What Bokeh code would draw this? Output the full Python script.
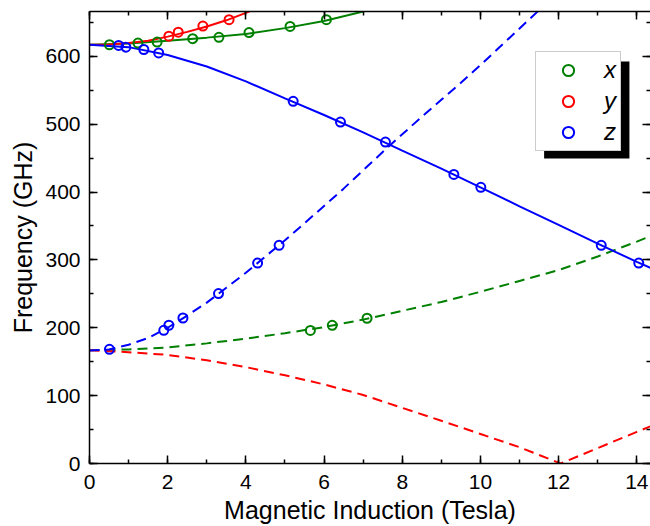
from bokeh.plotting import figure
from bokeh.models import (Range1d, LinearAxis, Legend, LegendItem, BoxAnnotation,
                          SingleIntervalTicker, CustomLabelingPolicy)
from bokeh.embed import file_html
from bokeh.resources import INLINE

# ---- data ----
# measured points
x_hi_B = [0.51, 1.24, 1.73, 2.64, 3.31, 4.08, 5.13, 6.06]
x_hi_F = [617, 619.5, 621, 626, 628, 635, 644, 654]
x_lo_B = [5.65, 6.21, 7.10]
x_lo_F = [196, 203.6, 214]

y_hi_B = [2.03, 2.27, 2.90, 3.57]
y_hi_F = [629.7, 635.6, 644.5, 654]

z_hi_B = [0.745, 0.93, 1.39, 1.77, 5.21, 6.42, 7.57, 9.32, 10.01, 13.09, 14.05]
z_hi_F = [616, 613.5, 610, 605, 533.6, 503, 473.6, 426, 407, 321.5, 295.4]
z_lo_B = [0.51, 1.90, 2.03, 2.39, 3.30, 4.30, 4.85]
z_lo_F = [168.3, 196.3, 203.7, 214.4, 250.4, 295.4, 321.5]

# calculated curves
gx_solid_B = [0, 1, 2, 3, 4, 5, 6, 7, 7.2]
gx_solid_F = [617, 619, 623, 627.5, 633, 641.5, 652, 666, 669]
gx_dash_B = [0, 1, 2, 3, 4, 5, 6, 7, 8, 9, 10, 11, 12, 13, 14, 14.4]
gx_dash_F = [167, 168, 171, 177, 184, 192, 201, 212, 225, 238, 253, 269, 285, 305, 327, 336]

ry_solid_B = [0, 0.5, 1, 1.5, 2, 2.5, 3, 3.5, 4, 4.5]
ry_solid_F = [617, 617.5, 619.5, 623, 629, 636, 644, 653, 664, 676]
ry_dash_B = [0, 1, 2, 3, 4, 5, 6, 7, 8, 9, 10, 11, 12.05, 13, 14, 14.4]
ry_dash_F = [167, 164, 160, 152, 142, 130, 116.5, 101, 82, 63, 43.5, 24, 0, 22.7, 46.6, 56]

bz_solid_B = [0, 1, 2, 3, 4, 5, 6, 7, 8, 9, 10, 11, 12, 13, 14, 14.4]
bz_solid_F = [617, 613.5, 602, 585, 563, 538, 513.5, 488, 461, 434.5, 407, 379, 351.5, 324, 297, 287]
bz_dash_B = [0, 0.5, 1, 1.5, 2, 2.5, 3, 3.5, 4, 4.5, 5, 5.5, 6, 6.5, 7, 7.5, 8, 8.5, 9, 9.5, 10, 10.5, 11, 11.5]
bz_dash_F = [166.5, 168, 175, 185, 200, 218, 237, 259, 281, 305, 329, 354, 379.5, 405, 432, 459, 485, 511, 536, 561, 587, 614, 641, 668]

labels = ["x", "y", "z"]
x_title = "Magnetic Induction (Tesla)"
y_title = "Frequency (GHz)"
GREEN, RED, BLUE = "#008000", "#FF0000", "#0000FF"
FONT = "Liberation Sans"

X_END, Y_END = 14.35, 666
W, H = 650, 526
ML, MT, MB = 89, 11, 63
FW = 559.0                 # expected frame width in px
FH = float(H - MT - MB)    # frame height in px

p = figure(width=W, height=H, output_backend="svg", toolbar_location=None,
           x_range=Range1d(0, X_END), y_range=Range1d(0, Y_END),
           min_border_left=ML, min_border_right=0, min_border_top=MT, min_border_bottom=MB,
           x_axis_label=x_title, y_axis_label=y_title)
p.outline_line_color = None
p.grid.visible = False
p.background_fill_color = "white"
p.border_fill_color = "white"

xt = SingleIntervalTicker(interval=2, num_minor_ticks=2)
yt = SingleIntervalTicker(interval=100, num_minor_ticks=2)

def style(ax):
    ax.axis_line_width = 1.5
    ax.axis_line_color = "black"
    ax.major_tick_in = 8
    ax.major_tick_out = 0
    ax.minor_tick_in = 4
    ax.minor_tick_out = 0
    ax.major_tick_line_width = 1.5
    ax.minor_tick_line_width = 1.5
    ax.major_label_text_font = FONT
    ax.major_label_text_font_size = "21px"
    ax.major_label_text_color = "black"
    ax.axis_label_text_font = FONT
    ax.axis_label_text_font_size = "25px"
    ax.axis_label_text_font_style = "normal"
    ax.axis_label_text_color = "black"

xa = p.xaxis[0]
xa.ticker = xt
style(xa)
xa.major_label_standoff = 11
xa.axis_label_standoff = 4

ya = p.yaxis[0]
ya.ticker = yt
style(ya)
ya.major_label_standoff = 9
ya.axis_label_standoff = 5

hide = CustomLabelingPolicy(code="""
try { for (const i of Array.from(indices.ones())) indices.unset(i) } catch (e) {}
return indices
""")

top = LinearAxis(ticker=xt)
style(top)
top.major_label_text_font_size = "0px"
top.major_label_standoff = 0
top.major_label_policy = hide
p.add_layout(top, "above")

right = LinearAxis(ticker=yt)
style(right)
right.major_label_text_font_size = "0px"
right.major_label_standoff = 0
right.major_label_policy = hide
right.axis_line_color = None
p.add_layout(right, "right")

px_x = X_END / FW
px_y = Y_END / FH

# curves
p.line(gx_solid_B, gx_solid_F, line_color=GREEN, line_width=2)
p.line(gx_dash_B, gx_dash_F, line_color=GREEN, line_width=2, line_dash="10 6")
p.line(ry_solid_B, ry_solid_F, line_color=RED, line_width=2)
p.line(ry_dash_B, ry_dash_F, line_color=RED, line_width=2, line_dash="10 6")
p.line(bz_solid_B, bz_solid_F, line_color=BLUE, line_width=2)
p.line(bz_dash_B, bz_dash_F, line_color=BLUE, line_width=2, line_dash="10 6")

def pts(B, F, c):
    return p.scatter(B, F, marker="circle", size=9, fill_color=None, line_color=c, line_width=2)

gx1 = pts(x_hi_B, x_hi_F, GREEN)
pts(x_lo_B, x_lo_F, GREEN)
ry1 = pts(y_hi_B, y_hi_F, RED)
bz1 = pts(z_hi_B, z_hi_F, BLUE)
pts(z_lo_B, z_lo_F, BLUE)

# legend with drop shadow (positions in px from frame bottom-left)
LX, LY, LW, LH = 446, 312, 84, 98
shadow = BoxAnnotation(left=(LX + 7) * px_x, right=(LX + LW + 8) * px_x,
                       bottom=(LY - 7) * px_y, top=(LY + LH - 8) * px_y,
                       fill_color="black", fill_alpha=1, line_color=None)
p.add_layout(shadow)

legend = Legend(items=[LegendItem(label=labels[0], renderers=[gx1]),
                       LegendItem(label=labels[1], renderers=[ry1]),
                       LegendItem(label=labels[2], renderers=[bz1])],
                location=(LX, LY), orientation="vertical",
                label_text_font=FONT, label_text_font_style="italic",
                label_text_font_size="24px", label_text_color="black",
                glyph_width=56, glyph_height=28, label_height=28, label_width=12,
                label_standoff=8, padding=4, spacing=3, margin=0,
                border_line_color="#999999", border_line_width=1,
                background_fill_color="white", background_fill_alpha=1)
p.add_layout(legend)

open("out.html", "w").write(file_html(p, INLINE))
